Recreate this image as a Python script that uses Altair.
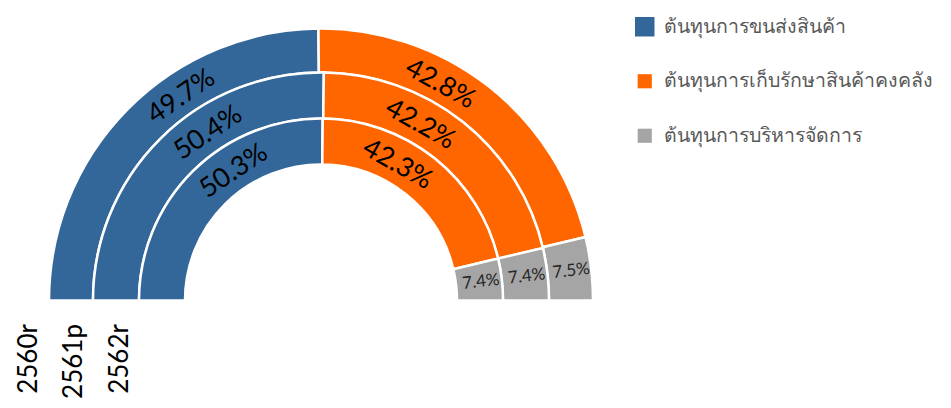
import altair as alt
import pandas as pd

# ---- data ----
years = ["2560r", "2561p", "2562r"]
categories = [
    "ต้นทุนการขนส่งสินค้า",
    "ต้นทุนการเก็บรักษาสินค้าคงคลัง",
    "ต้นทุนการบริหารจัดการ",
]
transport = [49.7, 50.4, 50.3]
warehouse = [42.8, 42.2, 42.3]
admin = [7.5, 7.4, 7.4]
colors = ["#346799", "#FF6600", "#A5A5A5"]

# ---- layout constants ----
CX, CY = 313, 292.5
RINGS = {"2560r": (272, 228), "2561p": (228, 182), "2562r": (182, 136)}
LABEL_PULL = 0.76  # labels drawn pulled toward the top of the arc, as in the source

rows = []
for i, yr in enumerate(years):
    vals = [transport[i], warehouse[i], admin[i]]
    cum = 0.0
    for c, v in zip(categories, vals):
        rows.append(dict(year=yr, category=c, value=v, start=cum, end=cum + v,
                         label=f"{v:.1f}%", small=(c == categories[2])))
        cum += v
df = pd.DataFrame(rows)

base = alt.Chart(df).transform_calculate(
    t0="-PI/2 + datum.start/100*PI",
    t1="-PI/2 + datum.end/100*PI",
    tm="-PI/2 + (datum.start + datum.end)/200*PI",
).transform_calculate(
    tl=f"datum.small ? datum.tm : datum.tm*{LABEL_PULL}"
).transform_calculate(
    deg="datum.tl*180/PI"
).transform_calculate(
    ang="(((datum.small ? datum.deg - 90 : datum.deg) % 360) + 360) % 360"
)

legend = alt.Legend(
    title=None, orient="none", legendX=627, legendY=9, symbolType="square",
    symbolSize=alt.ExprRef(expr="datum.index === 0 ? 380 : 200"),
    symbolStrokeWidth=0, labelFontSize=19.5, labelColor="#595959",
    labelFont="Lato", rowPadding=33.5, labelOffset=9, padding=0, labelLimit=400,
)
color = alt.Color("category:N", scale=alt.Scale(domain=categories, range=colors),
                  legend=legend, sort=categories)

layers = []
for yr in years:
    r1, r0 = RINGS[yr]
    rm = (r1 + r0) / 2
    arc = base.transform_filter(alt.datum.year == yr).mark_arc(
        radius=r1, radius2=r0, stroke="white", strokeWidth=2.5
    ).encode(
        theta=alt.Theta("t0:Q", scale=None, stack=False),
        theta2="t1:Q",
        x=alt.value(CX), y=alt.value(CY),
        color=color,
    )
    big = base.transform_filter(alt.datum.year == yr).transform_filter("!datum.small").mark_text(
        radius=rm - 3, font="Lato", baseline="middle", align="center", fontSize=27, color="#000000"
    ).encode(
        theta=alt.Theta("tl:Q", scale=None, stack=False),
        x=alt.value(CX), y=alt.value(CY),
        text="label:N",
        angle=alt.Angle("ang:Q", scale=None),
    )
    small = base.transform_filter(alt.datum.year == yr).transform_filter("datum.small").mark_text(
        radius=rm + 2, font="Lato", baseline="middle", align="center", fontSize=17, color="#262626"
    ).encode(
        theta=alt.Theta("tl:Q", scale=None, stack=False),
        x=alt.value(CX), y=alt.value(CY),
        text="label:N",
        angle=alt.Angle("ang:Q", scale=None),
    )
    layers += [arc, big, small]

ydf = pd.DataFrame({"year": years})
ydf["xpos"] = [CX - sum(RINGS[y]) / 2 - 42 for y in years]
year_labels = alt.Chart(ydf).mark_text(
    angle=270, align="right", baseline="middle", fontSize=26, font="Lato", color="#000000"
).encode(
    x=alt.X("xpos:Q", scale=None),
    y=alt.value(316),
    text="year:N",
)
layers.append(year_labels)

chart = alt.layer(*layers).properties(
    width=935, height=392, autosize="none", padding=0
).configure_view(stroke=None)

chart.save("out.html", embed_options={"renderer": "svg", "actions": False})
